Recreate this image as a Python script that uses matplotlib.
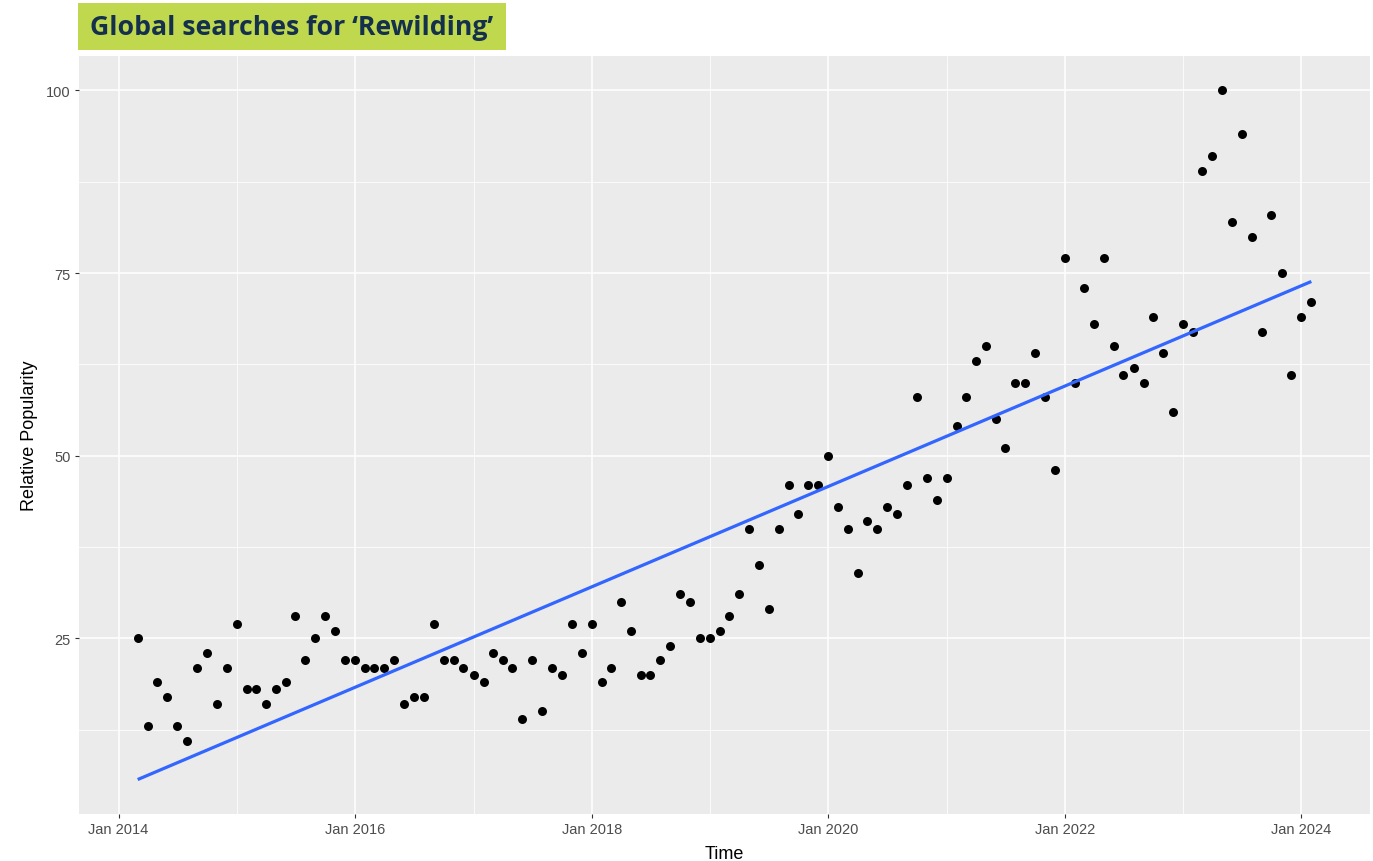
import numpy as np
import pandas as pd
import matplotlib
matplotlib.use("Agg")
import matplotlib.pyplot as plt
import matplotlib.dates as mdates
from matplotlib.patches import Rectangle

# monthly Google Trends values, Mar 2014 .. Feb 2024
months = pd.date_range("2014-03-01", periods=120, freq="MS")
popularity = [
    25, 13, 19, 17, 13, 11, 21, 23, 16, 21,                  # 2014 (Mar-Dec)
    27, 18, 18, 16, 18, 19, 28, 22, 25, 28, 26, 22,          # 2015
    22, 21, 21, 21, 22, 16, 17, 17, 27, 22, 22, 21,          # 2016
    20, 19, 23, 22, 21, 14, 22, 15, 21, 20, 27, 23,          # 2017
    27, 19, 21, 30, 26, 20, 20, 22, 24, 31, 30, 25,          # 2018
    25, 26, 28, 31, 40, 35, 29, 40, 46, 42, 46, 46,          # 2019
    50, 43, 40, 34, 41, 40, 43, 42, 46, 58, 47, 44,          # 2020
    47, 54, 58, 63, 65, 55, 51, 60, 60, 64, 58, 48,          # 2021
    77, 60, 73, 68, 77, 65, 61, 62, 60, 69, 64, 56,          # 2022
    68, 67, 89, 91, 100, 82, 94, 80, 67, 83, 75, 61,         # 2023
    69, 71,                                                  # 2024 (Jan-Feb)
]

title = "Global searches for \u2018Rewilding\u2019"
x_label = "Time"
y_label = "Relative Popularity"

plt.rcParams["font.family"] = ["Liberation Sans", "DejaVu Sans"]

fig = plt.figure(figsize=(13.73, 8.62), dpi=100)
ax = fig.add_axes([79 / 1373, 1 - 815 / 862, (1370 - 79) / 1373, (815 - 57) / 862])

# ggplot2 grey theme
ax.set_facecolor("#EBEBEB")
for s in ax.spines.values():
    s.set_visible(False)

x = mdates.date2num(months)
y = np.array(popularity, dtype=float)

ax.scatter(x, y, s=42, color="black", zorder=3, linewidths=0)

# linear trend (geom_smooth(method = "lm"))
slope, intercept = np.polyfit(x, y, 1)
x_fit = np.array([x.min(), x.max()])
ax.plot(x_fit, slope * x_fit + intercept, color="#3366FF", lw=2.3, zorder=4,
        solid_capstyle="butt")

# limits with 5% expansion like ggplot
lo = min(y.min(), (slope * x_fit + intercept).min())
hi = max(y.max(), (slope * x_fit + intercept).max())
ax.set_ylim(lo - 0.05 * (hi - lo), hi + 0.05 * (hi - lo))
span = x.max() - x.min()
ax.set_xlim(x.min() - 0.05 * span, x.max() + 0.05 * span)

ax.xaxis.set_major_locator(mdates.YearLocator(2))
ax.xaxis.set_minor_locator(mdates.YearLocator(1))
ax.xaxis.set_major_formatter(mdates.DateFormatter("%b %Y"))
ax.set_yticks([25, 50, 75, 100])
ax.set_yticks([12.5, 37.5, 62.5, 87.5], minor=True)

ax.grid(which="major", color="white", lw=1.1)
ax.grid(which="minor", color="white", lw=0.55)
ax.set_axisbelow(True)

ax.tick_params(which="major", length=3, width=0.8, color="#333333",
               labelcolor="#4D4D4D", labelsize=10.5, pad=3)
ax.tick_params(which="minor", length=0)

ax.set_xlabel(x_label, fontsize=13, color="black", labelpad=6)
ax.set_ylabel(y_label, fontsize=13, color="black", labelpad=6)

# title banner
fig.patches.append(Rectangle((78 / 1373, 1 - 51 / 862), (506 - 78) / 1373, 47 / 862,
                             transform=fig.transFigure, facecolor="#BFD84E",
                             edgecolor="none", zorder=0))
fig.text(292 / 1373, 1 - 28 / 862, title, ha="center", va="center",
         fontsize=19.2, fontweight="bold", color="#14304D",
         family=["Open Sans", "DejaVu Sans"])

fig.savefig("out.png", dpi=100)
